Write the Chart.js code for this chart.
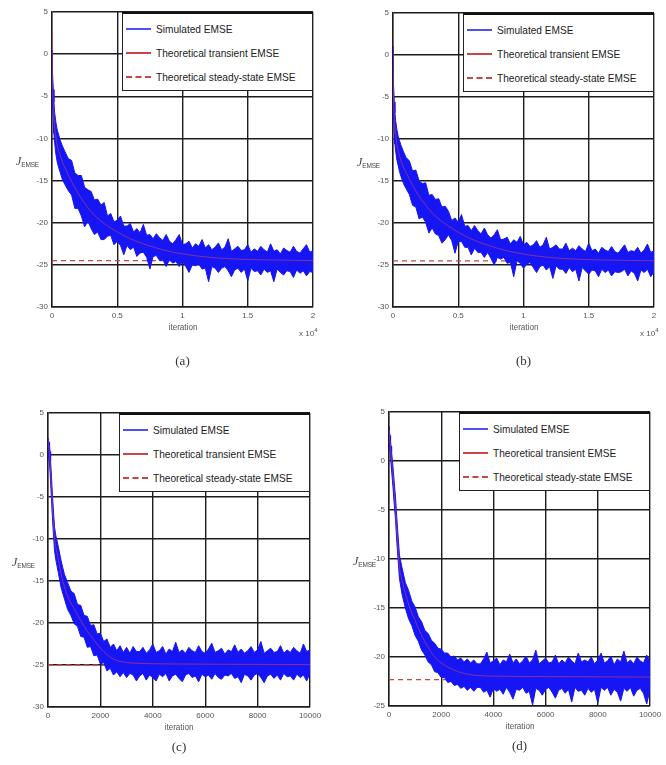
<!DOCTYPE html>
<html>
<head>
<meta charset="utf-8">
<script src="https://cdn.jsdelivr.net/npm/chart.js@4.4.1/dist/chart.umd.min.js"></script>
<style>
    body { margin: 0; width: 666px; height: 765px; background: #fff; position: relative; overflow: hidden;
           font-family: "Liberation Sans", Arial, sans-serif; }
    .panel { position: absolute; }
    .legend { position: absolute; box-sizing: border-box; width: 191px; height: 79px; background: #fff;
              border: 1px solid #222; border-top: 2px solid #111; }
    .legend .row { position: absolute; left: 3px; height: 14px; }
    .legend .swatch { position: absolute; left: 0; top: 6px; width: 25px; border-top: 2px solid; }
    .legend .txt { position: absolute; left: 30px; top: 0; white-space: nowrap; font-size: 11px; line-height: 14px;
                   color: #222; transform: scaleX(0.92); transform-origin: left center; }
    .ylab { position: absolute; font-family: "Liberation Serif", "DejaVu Serif", serif; color: #444; font-size: 12px; white-space: nowrap; }
    .ylab sub { font-family: "Liberation Sans", Arial, sans-serif; font-size: 6.5px; letter-spacing: -0.2px; vertical-align: -2px; }
    .xlab { position: absolute; font-size: 9px; color: #555; transform: translateX(-50%) scaleX(0.9); white-space: nowrap; }
    .expo { position: absolute; font-size: 8px; color: #555; white-space: nowrap; }
    .expo sup { font-size: 6px; }
    .cap { position: absolute; font-family: "Liberation Serif", "DejaVu Serif", serif; font-size: 13px; color: #333;
           transform: translateX(-50%); }
</style>
</head>
<body>
<script>
// legend entries
const seriesNames = ['Simulated EMSE', 'Theoretical transient EMSE', 'Theoretical steady-state EMSE'];

// ---- panels (a), (b): 0 .. 2 x 10^4 iterations ----
const xLong = [0, 25, 50, 100, 150, 200, 300, 400, 500, 600, 800, 1000,
    1250, 1500, 1750, 2000, 2250, 2500, 2750, 3000, 3250, 3500, 3750, 4000,
    4250, 4500, 4750, 5000, 5250, 5500, 5750, 6000, 6250, 6500, 6750, 7000,
    7250, 7500, 7750, 8000, 8250, 8500, 8750, 9000, 9250, 9500, 9750, 10000,
    10250, 10500, 10750, 11000, 11250, 11500, 11750, 12000, 12250, 12500, 12750, 13000,
    13250, 13500, 13750, 14000, 14250, 14500, 14750, 15000, 15250, 15500, 15750, 16000,
    16250, 16500, 16750, 17000, 17250, 17500, 17750, 18000, 18250, 18500, 18750, 19000,
    19250, 19500, 19750, 20000];

// simulated EMSE band (upper / lower edge of the noisy curve), dB
const hiA = [0.5, -0.5, -2.2, -4.2, -5.7, -6.9, -8.1, -9.0, -9.5, -10.1, -10.9, -11.6,
    -12.4, -12.6, -14.1, -14.4, -14.4, -15.8, -16.1, -16.3, -17.3, -17.2, -17.9, -17.6,
    -19.2, -18.9, -19.9, -19.7, -19.2, -20.4, -20.4, -20.1, -21.1, -20.7, -21.2, -20.2,
    -21.5, -21.4, -21.9, -21.3, -21.8, -22.1, -21.4, -22.2, -22.5, -22.0, -21.4, -22.6,
    -22.5, -22.2, -23.0, -22.5, -22.8, -22.0, -23.0, -22.6, -23.2, -22.9, -22.4, -23.2,
    -22.9, -21.9, -23.4, -23.1, -22.8, -23.3, -23.2, -22.6, -23.5, -23.1, -23.4, -22.8,
    -23.2, -23.5, -22.5, -23.4, -23.2, -23.7, -23.0, -23.3, -23.5, -22.8, -23.4, -23.6,
    -23.1, -22.6, -23.5, -23.3];
const loA = [-1.5, -4.0, -5.8, -8.0, -9.4, -10.5, -11.9, -12.8, -13.4, -13.9, -14.9, -15.5,
    -16.2, -16.7, -18.3, -18.3, -19.2, -20.5, -19.8, -20.7, -21.4, -21.1, -22.0, -22.0,
    -21.6, -21.5, -22.6, -22.2, -22.7, -23.8, -22.7, -23.2, -22.9, -24.0, -23.6, -23.5,
    -24.1, -25.5, -24.0, -23.9, -24.5, -24.4, -25.2, -24.4, -24.8, -24.6, -25.2, -24.6,
    -25.2, -25.9, -25.0, -25.1, -24.9, -25.5, -25.4, -27.0, -25.2, -25.4, -25.9, -25.4,
    -25.2, -25.7, -26.4, -25.6, -25.4, -25.9, -25.5, -26.9, -25.4, -25.8, -25.7, -26.2,
    -25.5, -25.9, -25.7, -27.0, -25.5, -25.9, -26.2, -25.7, -25.8, -26.5, -25.6, -26.0,
    -25.7, -26.3, -25.8, -25.9];
const hiB = [1.0, -1.5, -3.5, -5.6, -6.9, -7.8, -8.9, -9.7, -10.2, -10.7, -11.5, -12.2,
    -12.6, -13.8, -13.7, -15.0, -15.3, -15.2, -16.7, -16.6, -17.2, -17.1, -18.1, -18.0,
    -18.6, -19.7, -19.4, -19.9, -19.0, -20.4, -20.3, -20.9, -20.3, -20.9, -21.3, -20.6,
    -21.4, -21.8, -21.4, -20.8, -22.0, -21.9, -21.7, -22.5, -22.0, -22.3, -21.6, -22.6,
    -22.3, -22.8, -22.6, -22.1, -22.9, -22.6, -21.7, -23.1, -22.9, -22.6, -23.1, -23.1,
    -22.4, -23.3, -23.0, -23.3, -22.7, -23.1, -23.4, -22.4, -23.3, -23.1, -23.6, -22.9,
    -23.2, -23.4, -22.8, -23.4, -23.6, -23.1, -22.6, -23.5, -23.3, -23.4, -22.9, -23.6,
    -23.2, -22.5, -23.5, -23.3];
const loB = [-2.0, -5.5, -7.2, -9.4, -10.6, -11.4, -12.5, -13.2, -13.9, -14.4, -15.3, -15.9,
    -16.6, -17.9, -18.1, -19.5, -19.3, -19.9, -21.2, -20.6, -21.3, -21.5, -22.4, -22.0,
    -21.4, -22.1, -23.6, -22.2, -22.2, -22.9, -22.9, -23.8, -23.0, -23.5, -23.5, -24.1,
    -23.5, -24.2, -25.0, -24.1, -24.3, -24.1, -24.8, -24.7, -26.4, -24.5, -24.8, -25.4,
    -24.9, -24.7, -25.3, -25.9, -25.2, -25.0, -25.6, -25.2, -26.6, -25.1, -25.5, -25.5,
    -26.0, -25.3, -25.8, -25.5, -26.9, -25.3, -25.7, -26.1, -25.6, -25.7, -26.4, -25.5,
    -25.9, -25.6, -26.3, -25.8, -25.9, -25.8, -25.5, -26.3, -25.7, -26.0, -26.9, -25.6,
    -25.9, -25.5, -26.4, -25.8];

// theoretical transient EMSE, dB
const xTheoryLong = [0, 25, 50, 100, 200, 300, 400, 600, 800, 1000, 1500, 2000, 3000, 4000,
    5000, 6000, 7000, 8000, 9000, 10000, 12000, 14000, 16000, 18000, 20000];
const theoryA = [2.5, -1.5, -3.8, -5.9, -8.6, -9.8, -10.8, -11.9, -12.8, -13.5, -15.1, -16.5, -18.7, -20.1,
    -21.1, -21.9, -22.5, -23.0, -23.4, -23.7, -24.1, -24.3, -24.4, -24.45, -24.5];
const theoryB = [2.5, -2.5, -5.0, -7.3, -9.4, -10.6, -11.4, -12.5, -13.4, -14.0, -15.5, -16.8, -18.8, -20.1,
    -21.1, -21.9, -22.5, -23.0, -23.4, -23.7, -24.1, -24.3, -24.4, -24.45, -24.5];

// ---- panels (c), (d): 0 .. 10000 iterations ----
const xShort = [0, 10, 20, 40, 60, 80, 100, 150, 200, 250, 300, 400, 500, 625, 750, 875,
    1000, 1125, 1250, 1375, 1500, 1625, 1750, 1875, 2000, 2125, 2250, 2375, 2500, 2625, 2750, 2875,
    3000, 3125, 3250, 3375, 3500, 3625, 3750, 3875, 4000, 4125, 4250, 4375, 4500, 4625, 4750, 4875,
    5000, 5125, 5250, 5375, 5500, 5625, 5750, 5875, 6000, 6125, 6250, 6375, 6500, 6625, 6750, 6875,
    7000, 7125, 7250, 7375, 7500, 7625, 7750, 7875, 8000, 8125, 8250, 8375, 8500, 8625, 8750, 8875,
    9000, 9125, 9250, 9375, 9500, 9625, 9750, 9875, 10000];
const hiC = [2.0, 1.9, 1.8, 1.5, 1.1, 0.4, -0.7, -3.6, -6.3, -8.6, -9.6, -11.0, -12.6, -14.2, -15.2, -16.2,
    -16.5, -17.8, -17.9, -19.1, -19.2, -20.3, -20.2, -21.3, -21.2, -22.2, -21.9, -22.9, -22.5, -23.3, -22.7, -23.5,
    -22.9, -23.6, -22.8, -23.4, -23.4, -22.9, -23.6, -23.2, -22.5, -23.5, -23.3, -22.8, -23.7, -23.1, -23.4, -22.3,
    -23.5, -23.2, -23.6, -22.9, -23.3, -23.5, -22.7, -23.4, -23.6, -23.1, -22.4, -23.5, -23.3, -23.0, -23.7, -23.2,
    -23.4, -22.6, -23.5, -23.1, -23.6, -23.3, -22.8, -23.5, -23.2, -22.2, -23.6, -23.3, -23.0, -23.5, -23.4, -22.7,
    -23.6, -23.2, -23.5, -22.9, -23.3, -23.6, -22.5, -23.4, -23.2];
const loC = [0.8, 0.3, -0.1, -0.6, -1.2, -2.1, -3.3, -6.4, -9.1, -11.4, -12.5, -14.1, -15.8, -17.1, -18.4, -19.1,
    -20.1, -20.4, -21.6, -21.7, -22.9, -22.8, -23.9, -23.8, -24.9, -24.7, -25.7, -25.4, -26.2, -25.8, -26.4, -25.9,
    -26.5, -26.0, -26.2, -26.9, -26.3, -26.0, -26.8, -26.2, -26.5, -26.9, -26.1, -26.4, -26.0, -26.9, -26.3, -26.1,
    -26.6, -27.0, -26.2, -26.0, -26.5, -26.3, -27.0, -26.1, -26.4, -26.2, -26.7, -26.0, -26.5, -26.7, -26.2, -26.3,
    -26.0, -26.6, -26.4, -27.1, -26.1, -26.3, -26.8, -26.2, -26.0, -26.5, -27.1, -26.3, -26.1, -26.6, -26.2, -26.8,
    -26.0, -26.4, -26.3, -26.8, -26.1, -26.5, -26.2, -26.9, -26.0];
const hiD = [3.5, 3.4, 3.0, 2.6, 2.0, 1.5, 0.9, -0.5, -2.2, -3.7, -5.8, -9.6, -10.9, -12.4, -13.2, -14.3,
    -14.9, -15.9, -16.4, -17.3, -17.6, -18.3, -18.6, -19.1, -19.2, -19.6, -19.6, -20.0, -19.9, -20.3, -20.1, -20.5,
    -20.2, -20.6, -20.3, -20.7, -20.7, -20.2, -19.5, -20.6, -20.4, -20.1, -20.8, -20.3, -20.5, -19.7, -20.6, -20.2,
    -20.7, -20.4, -19.9, -20.6, -20.3, -19.3, -20.7, -20.4, -20.1, -20.6, -20.5, -19.8, -20.7, -20.3, -20.6, -20.0,
    -20.4, -20.7, -19.6, -20.5, -20.3, -20.5, -20.0, -20.7, -20.3, -19.6, -20.6, -20.4, -19.9, -20.8, -20.2, -20.5,
    -19.4, -20.6, -20.3, -20.7, -20.0, -20.4, -20.6, -19.8, -20.5];
const loD = [2.3, 1.8, 1.5, 1.0, 0.3, -0.4, -1.0, -2.6, -4.4, -6.0, -8.3, -12.0, -13.6, -15.0, -16.1, -16.8,
    -17.8, -18.4, -19.3, -19.8, -20.5, -20.8, -21.5, -21.6, -22.1, -22.1, -22.6, -22.5, -22.9, -22.8, -23.2, -23.0,
    -23.4, -23.1, -23.5, -23.1, -23.1, -23.6, -23.4, -24.1, -23.2, -23.5, -23.3, -23.8, -23.1, -23.6, -24.3, -23.3,
    -23.4, -23.1, -23.7, -23.5, -24.9, -23.2, -23.4, -23.9, -23.3, -23.1, -23.6, -24.2, -23.4, -23.2, -23.7, -23.3,
    -24.6, -23.1, -23.5, -23.4, -23.9, -23.2, -23.6, -23.3, -24.7, -23.1, -23.4, -23.1, -23.9, -23.3, -23.6, -24.5,
    -23.2, -23.5, -23.1, -24.0, -23.4, -23.2, -23.7, -24.8, -23.3];

const xTheoryShort = [0, 10, 20, 40, 60, 80, 100, 150, 200, 250, 300, 400, 500, 750, 1000,
    1250, 1500, 1750, 2000, 2500, 3000, 3500, 4000, 6000, 10000];
const theoryC = [2.1, 1.5, 1.1, 0.6, 0.1, -0.8, -2.0, -5.0, -7.7, -10.0, -11.0, -12.5, -14.2, -16.8, -18.3,
    -19.7, -21.0, -22.0, -23.0, -24.3, -24.7, -24.8, -24.85, -24.9, -24.95];
const theoryD = [3.2, 2.9, 2.5, 1.9, 1.2, 0.6, 0.0, -1.5, -3.3, -4.9, -7.0, -10.8, -12.2, -14.6, -16.3,
    -17.8, -19.0, -20.0, -20.6, -21.35, -21.75, -21.9, -21.95, -22.0, -22.05];

// theoretical steady-state EMSE, dB
const steadyA = -24.5, steadyB = -24.5, steadyC = -25.0, steadyD = -22.3;

// axis ticks
const xTicksLong = [0, 5000, 10000, 15000, 20000];
const xLabelsLong = ['0', '0.5', '1', '1.5', '2'];
const xTicksShort = [0, 2000, 4000, 6000, 8000, 10000];
const xLabelsShort = ['0', '2000', '4000', '6000', '8000', '10000'];
const yTicks30 = [5, 0, -5, -10, -15, -20, -25, -30];
const yTicks25 = [5, 0, -5, -10, -15, -20, -25];

const BLUE = 'rgb(22, 22, 245)';
const RED_T = 'rgba(205, 60, 110, 0.6)';
const RED_S = '#c84646';
const GRID = '#1c1c1c';
const TICK = '#555';
const AX_W = 30, AX_H = 20, PAD_T = 8, PAD_R = 16;

// chart area of each panel in page pixels: [left, top, right, bottom]
const panels = [
    { area: [52, 12, 313, 307], x: xLong, hi: hiA, lo: loA, tx: xTheoryLong, theory: theoryA, steady: steadyA,
      xMax: 20000, xTicks: xTicksLong, xLabels: xLabelsLong, yTicks: yTicks30, expo: true, cap: '(a)' },
    { area: [393, 13, 654, 307], x: xLong, hi: hiB, lo: loB, tx: xTheoryLong, theory: theoryB, steady: steadyB,
      xMax: 20000, xTicks: xTicksLong, xLabels: xLabelsLong, yTicks: yTicks30, expo: true, cap: '(b)' },
    { area: [48, 413, 310, 707], x: xShort, hi: hiC, lo: loC, tx: xTheoryShort, theory: theoryC, steady: steadyC,
      xMax: 10000, xTicks: xTicksShort, xLabels: xLabelsShort, yTicks: yTicks30, expo: false, cap: '(c)' },
    { area: [389, 412, 650, 706], x: xShort, hi: hiD, lo: loD, tx: xTheoryShort, theory: theoryD, steady: steadyD,
      xMax: 10000, xTicks: xTicksShort, xLabels: xLabelsShort, yTicks: yTicks25, expo: false, cap: '(d)' }
];

function addEl(cls, html, left, top) {
    const el = document.createElement('div');
    el.className = cls;
    el.innerHTML = html;
    el.style.left = left + 'px';
    el.style.top = top + 'px';
    document.body.appendChild(el);
    return el;
}

function makePanel(p) {
    const [L, T, R, B] = p.area;
    const wrap = document.createElement('div');
    wrap.className = 'panel';
    wrap.style.left = (L - AX_W) + 'px';
    wrap.style.top = (T - PAD_T) + 'px';
    wrap.style.width = (R - L + AX_W + PAD_R) + 'px';
    wrap.style.height = (B - T + PAD_T + AX_H) + 'px';
    const canvas = document.createElement('canvas');
    wrap.appendChild(canvas);
    document.body.appendChild(wrap);

    const pts = (xs, ys) => xs.map((x, i) => ({ x: x, y: ys[i] }));
    const yMin = p.yTicks[p.yTicks.length - 1];
    const font = { family: '"Liberation Sans", Arial, sans-serif', size: 8 };

    new Chart(canvas, {
        type: 'line',
        data: {
            datasets: [
                { label: seriesNames[0], data: pts(p.x, p.hi), borderColor: BLUE, backgroundColor: BLUE,
                  borderWidth: 1, fill: '+1', order: 1 },
                { label: seriesNames[0], data: pts(p.x, p.lo), borderColor: BLUE, borderWidth: 1, fill: false, order: 1 },
                { label: seriesNames[1], data: pts(p.tx, p.theory), borderColor: RED_T, borderWidth: 1,
                  cubicInterpolationMode: 'monotone', fill: false, order: 0 },
                { label: seriesNames[2], data: [{ x: 0, y: p.steady }, { x: p.xMax, y: p.steady }],
                  borderColor: RED_S, borderWidth: 1.3, borderDash: [5, 4], fill: false, order: 2 }
            ]
        },
        options: {
            responsive: true,
            maintainAspectRatio: false,
            animation: false,
            layout: { padding: { top: PAD_T, right: PAD_R, left: 0, bottom: 0 } },
            elements: { point: { radius: 0 }, line: { tension: 0 } },
            plugins: { legend: { display: false }, tooltip: { enabled: false } },
            scales: {
                x: {
                    type: 'linear', min: 0, max: p.xMax,
                    afterBuildTicks: s => { s.ticks = p.xTicks.map(v => ({ value: v })); },
                    afterFit: s => { s.height = AX_H; s.paddingLeft = 0; s.paddingRight = 0; },
                    ticks: { callback: (v, i) => p.xLabels[i], font: font, color: TICK, padding: 4,
                             maxRotation: 0, autoSkip: false },
                    grid: { color: GRID, lineWidth: 1.4, drawTicks: false },
                    border: { color: GRID, width: 1.4 }
                },
                y: {
                    type: 'linear', min: yMin, max: p.yTicks[0],
                    afterBuildTicks: s => { s.ticks = p.yTicks.map(v => ({ value: v })); },
                    afterFit: s => { s.width = AX_W; s.paddingTop = 0; s.paddingBottom = 0; },
                    ticks: { callback: v => String(v), font: font, color: TICK, padding: 4, autoSkip: false },
                    grid: { color: GRID, lineWidth: 1.4, drawTicks: false },
                    border: { color: GRID, width: 1.4 }
                }
            }
        }
    });

    // legend box, top-right inside the plot
    const legend = addEl('legend', '', R - 191, T);
    seriesNames.forEach((name, i) => {
        const row = document.createElement('div');
        row.className = 'row';
        row.style.top = (8 + i * 24) + 'px';
        const sw = i === 0 ? `border-top-color:${BLUE};opacity:0.75` :
                   i === 1 ? `border-top-color:${RED_S}` : `border-top:2px dashed ${RED_S}`;
        row.innerHTML = `<span class="swatch" style="${sw}"></span><span class="txt">${name}</span>`;
        legend.appendChild(row);
    });

    addEl('ylab', '<i>J</i><sub>EMSE</sub>', L - 36, T + 142);
    addEl('xlab', 'iteration', (L + R) / 2, B + 15);
    if (p.expo) addEl('expo', 'x 10<sup>4</sup>', R - 14, B + 20);
    addEl('cap', p.cap, (L + R) / 2, p.expo ? B + 46 : B + 32);
}

panels.forEach(makePanel);
</script>
</body>
</html>
